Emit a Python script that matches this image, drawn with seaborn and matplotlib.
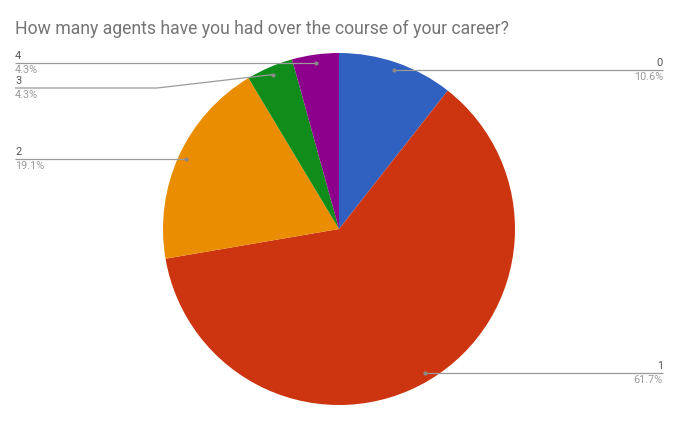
import numpy as np
import matplotlib
matplotlib.use('Agg')
import matplotlib.pyplot as plt
import seaborn as sns

# survey answers and their share of responses
categories = ['0', '1', '2', '3', '4']
percents = [10.6, 61.7, 19.1, 4.3, 4.3]
pct_labels = ['10.6%', '61.7%', '19.1%', '4.3%', '4.3%']
colors = ['#3060C0', '#CC3510', '#EB8D00', '#108C1A', '#8C008C']

sns.set_theme(style='white')
plt.rcParams['font.family'] = ['Roboto', 'DejaVu Sans']

W, H = 681, 423
fig = plt.figure(figsize=(W / 100, H / 100), dpi=100)
ax = fig.add_axes([0, 0, 1, 1])

cx, cy, r = 339, H - 229, 176
wedges, _ = ax.pie(percents, colors=colors, startangle=90, counterclock=False,
                   center=(cx, cy), radius=r, wedgeprops=dict(linewidth=0),
                   frame=True)
ax.set_xlim(0, W)
ax.set_ylim(0, H)
ax.set_aspect('equal')
ax.axis('off')

# label layout: side and y (pixel from top) of each leader line
label_side = ['right', 'right', 'left', 'left', 'left']
label_y = [70, 372, 157, 88, 63]

for w, cat, pl, side, ly in zip(wedges, categories, pct_labels, label_side, label_y):
    mid = np.deg2rad((w.theta1 + w.theta2) / 2)
    dx, dy = cx + 168 * np.cos(mid), cy + 168 * np.sin(mid)
    yy = H - ly
    if abs(yy - dy) < 4:
        yy = dy  # straight leader
    if side == 'right':
        xe, bend, ha = 663, 520, 'right'
    else:
        xe, bend, ha = 15, 157, 'left'
    ax.plot([dx, bend, xe], [dy, yy, yy], color='#9a9a9a', lw=0.9,
            solid_capstyle='butt', zorder=3)
    ax.plot(dx, dy, 'o', ms=3, color='#8a8a8a', mec='none', zorder=4)
    ax.text(xe, yy + 2, cat, ha=ha, va='bottom', fontsize=7.9, color='#555555')
    ax.text(xe, yy - 2, pl, ha=ha, va='top', fontsize=7.8, color='#9a9a9a')

fig.text(15 / W, 1 - 29 / H, 'How many agents have you had over the course of your career?',
         ha='left', va='center', fontsize=12.7, color='#757575')

fig.savefig('out.png', dpi=100)
